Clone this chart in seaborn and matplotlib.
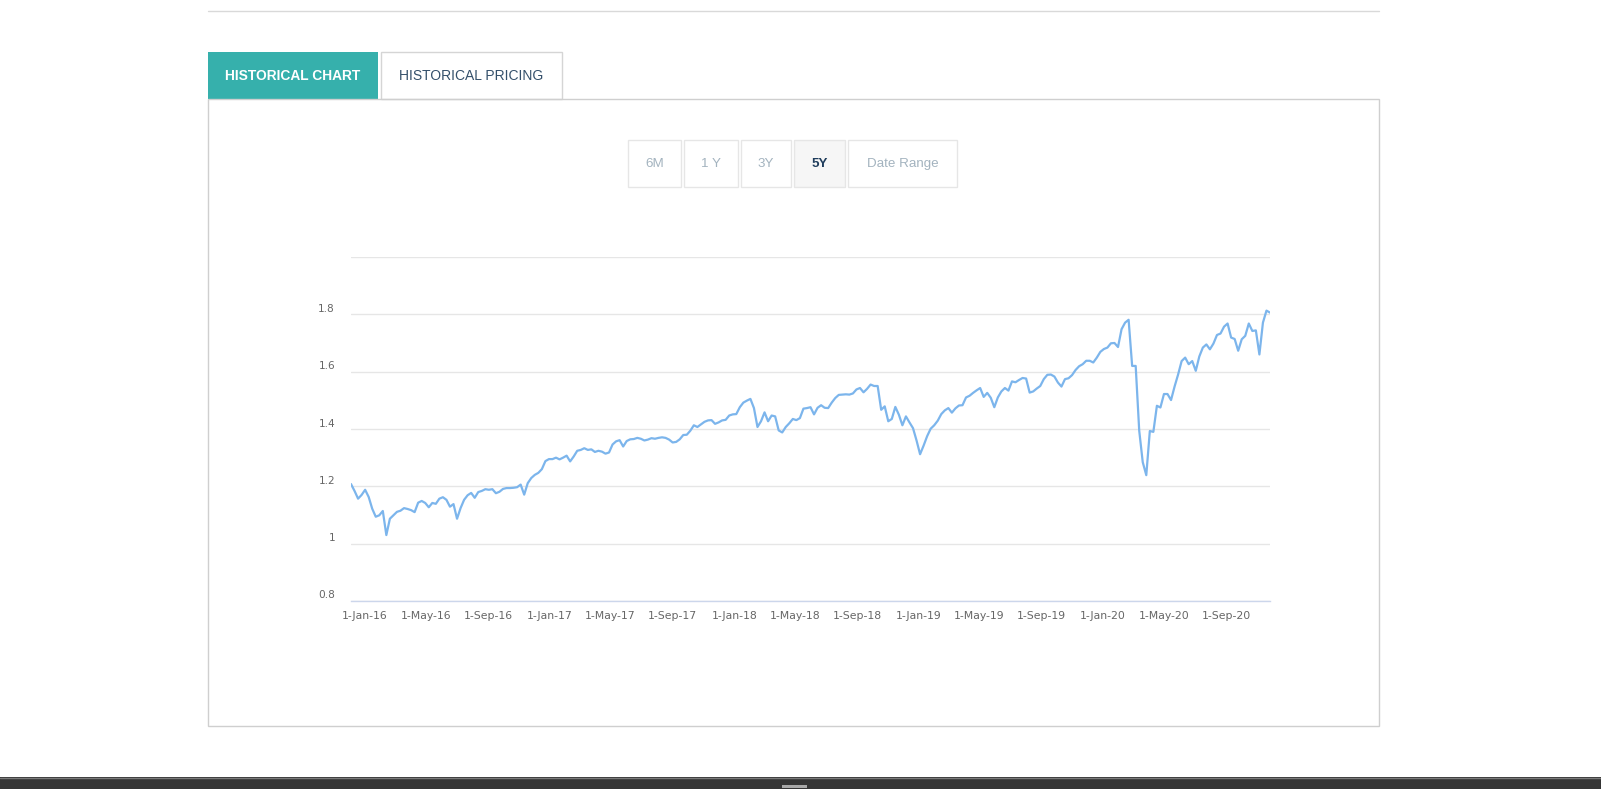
import matplotlib
matplotlib.use("Agg")
import matplotlib.pyplot as plt
import matplotlib.dates as mdates
import matplotlib.transforms as mtransforms
from matplotlib.patches import Rectangle
from matplotlib.ticker import FixedLocator, FuncFormatter
import pandas as pd
import seaborn as sns

# weekly closing values (Dec 2015 - Nov 2020)
start_date = "2015-12-04"
close_part1 = [1.208, 1.184, 1.157, 1.170, 1.188, 1.163, 1.122, 1.094, 1.099, 1.114,
               1.030, 1.087, 1.099, 1.111, 1.115, 1.124, 1.121, 1.117, 1.110, 1.143,
               1.149, 1.142, 1.127, 1.142, 1.139, 1.157, 1.162, 1.153, 1.129, 1.138,
               1.087, 1.124, 1.153, 1.169, 1.177, 1.160, 1.180, 1.184, 1.190, 1.188,
               1.190, 1.176, 1.181, 1.191, 1.194, 1.194, 1.195, 1.197, 1.206, 1.171,
               1.211, 1.229, 1.240, 1.247, 1.260, 1.288, 1.295, 1.295, 1.300, 1.294,
               1.300, 1.307, 1.287, 1.304, 1.324]
close_part2 = [1.327, 1.333, 1.327, 1.329, 1.320, 1.324, 1.321, 1.314, 1.318, 1.346,
               1.357, 1.361, 1.339, 1.358, 1.364, 1.365, 1.369, 1.366, 1.360, 1.363,
               1.368, 1.366, 1.369, 1.371, 1.369, 1.363, 1.353, 1.355, 1.364, 1.379,
               1.380, 1.394, 1.413, 1.407, 1.416, 1.425, 1.430, 1.431, 1.418, 1.423,
               1.430, 1.432, 1.447, 1.451, 1.452, 1.476, 1.492, 1.499, 1.505, 1.473,
               1.407, 1.427, 1.458, 1.427, 1.447, 1.444, 1.395, 1.388, 1.407, 1.420,
               1.435, 1.431, 1.438, 1.471, 1.473, 1.476]
close_part3 = [1.451, 1.474, 1.483, 1.474, 1.473, 1.492, 1.508, 1.519, 1.520, 1.521,
               1.520, 1.524, 1.538, 1.543, 1.528, 1.540, 1.555, 1.550, 1.550, 1.467,
               1.479, 1.427, 1.435, 1.477, 1.450, 1.413, 1.444, 1.423, 1.403, 1.360,
               1.312, 1.342, 1.375, 1.401, 1.413, 1.429, 1.452, 1.465, 1.473, 1.457,
               1.472, 1.482, 1.483, 1.510, 1.516, 1.526, 1.535, 1.543, 1.512, 1.526,
               1.509, 1.476, 1.510, 1.531, 1.543, 1.534, 1.566, 1.563, 1.571, 1.578,
               1.576, 1.527, 1.531, 1.541, 1.550]
close_part4 = [1.574, 1.589, 1.590, 1.583, 1.562, 1.548, 1.574, 1.577, 1.588, 1.606,
               1.619, 1.626, 1.638, 1.638, 1.632, 1.649, 1.669, 1.679, 1.684, 1.699,
               1.700, 1.686, 1.748, 1.771, 1.781, 1.620, 1.620, 1.394, 1.284, 1.239,
               1.393, 1.390, 1.481, 1.475, 1.522, 1.522, 1.501, 1.548, 1.590, 1.637,
               1.649, 1.626, 1.637, 1.603, 1.653, 1.684, 1.695, 1.678, 1.698, 1.728,
               1.733, 1.757, 1.768, 1.719, 1.714, 1.673, 1.713, 1.725, 1.768, 1.742,
               1.744, 1.660, 1.771, 1.813, 1.806]

y_ticks = [0.8, 1.0, 1.2, 1.4, 1.6, 1.8, 2.0]
y_tick_labels = ["0.8", "1", "1.2", "1.4", "1.6", "1.8", ""]
tab_labels = ["HISTORICAL CHART", "HISTORICAL PRICING"]
range_buttons = ["6M", "1 Y", "3Y", "5Y", "Date Range"]
active_button = "5Y"

values = close_part1 + close_part2 + close_part3 + close_part4
df = pd.DataFrame({"date": pd.date_range(start_date, periods=len(values), freq="7D"),
                   "close": values})

sns.set_style("white")
plt.rcParams["font.family"] = ["DejaVu Sans"]

W, H = 1601, 789
fig = plt.figure(figsize=(W / 100, H / 100), dpi=100)

# page decoration layer in pixel coordinates
bg = fig.add_axes([0, 0, 1, 1], zorder=0)
bg.set_xlim(0, W)
bg.set_ylim(H, 0)
bg.axis("off")

ui_font = "Liberation Sans"
bg.plot([208, 1379], [11, 11], color="#d9d9d9", lw=1)

# tabs
bg.add_patch(Rectangle((208, 52), 170, 47, facecolor="#36b0ac", edgecolor="none"))
bg.text(293, 75.5, tab_labels[0], color="white", fontsize=9.9, fontweight="bold",
        family=ui_font, ha="center", va="center")
bg.add_patch(Rectangle((381, 52), 181, 47, facecolor="white", edgecolor="#d5d5d5", lw=1))
bg.text(471.5, 75.5, tab_labels[1], color="#34506b", fontsize=10,
        family=ui_font, ha="center", va="center")

# panel
bg.add_patch(Rectangle((208, 99), 1171, 627, facecolor="none", edgecolor="#cfcfcf", lw=1))

# range buttons
btn_x = [628, 684, 741, 794, 848]
btn_w = [53, 54, 50, 51, 109]
for label, x0, w in zip(range_buttons, btn_x, btn_w):
    active = label == active_button
    bg.add_patch(Rectangle((x0, 140), w, 47, facecolor="#f6f6f6" if active else "white",
                           edgecolor="#e6e6e6", lw=1))
    bg.text(x0 + w / 2, 164, label, fontsize=9.6, family=ui_font,
            color="#1f3d5c" if active else "#a3b3bf",
            fontweight="bold" if active else "normal", ha="center", va="center")

# bottom bar
bg.add_patch(Rectangle((0, 777), W, 12, facecolor="#353535", edgecolor="none"))
bg.plot([0, W], [777.5, 777.5], color="#7a7a7a", lw=1)
bg.add_patch(Rectangle((782, 785), 25, 2.5, facecolor="#a8a8a8", edgecolor="none"))

# chart
left, right, top, bottom = 351, 1270, 257, 601
ax = fig.add_axes([left / W, 1 - bottom / H, (right - left) / W, (bottom - top) / H], zorder=1)
ax.set_facecolor("none")

sns.lineplot(data=df, x="date", y="close", ax=ax, color="#7cb5ec", linewidth=1.6)

ax.set_xlim(df["date"].iloc[0], df["date"].iloc[-1])
ax.set_ylim(0.8, 2.0)
ax.set_xlabel("")
ax.set_ylabel("")

ax.yaxis.set_major_locator(FixedLocator(y_ticks))
ax.set_yticklabels(y_tick_labels)
ax.yaxis.grid(True, color="#e6e6e6", lw=1)
ax.xaxis.grid(False)

ax.xaxis.set_major_locator(mdates.MonthLocator(bymonth=[1, 5, 9], bymonthday=1))
ax.xaxis.set_major_formatter(FuncFormatter(
    lambda v, pos: f"{mdates.num2date(v).day}-{mdates.num2date(v):%b-%y}"))

for side in ["top", "right", "left"]:
    ax.spines[side].set_visible(False)
ax.spines["bottom"].set_color("#ccd6eb")
ax.spines["bottom"].set_linewidth(1)

ax.tick_params(axis="x", length=7, width=1, color="#ccd6eb", pad=0.5,
               labelsize=7.8, labelcolor="#666666")
ax.tick_params(axis="y", length=0, pad=11.5, labelsize=7.6, labelcolor="#666666")

offset = mtransforms.ScaledTranslation(0, 6.5 / 100, fig.dpi_scale_trans)
for lab in ax.get_yticklabels():
    lab.set_transform(lab.get_transform() + offset)

fig.savefig("out.png", dpi=100, facecolor="white")
